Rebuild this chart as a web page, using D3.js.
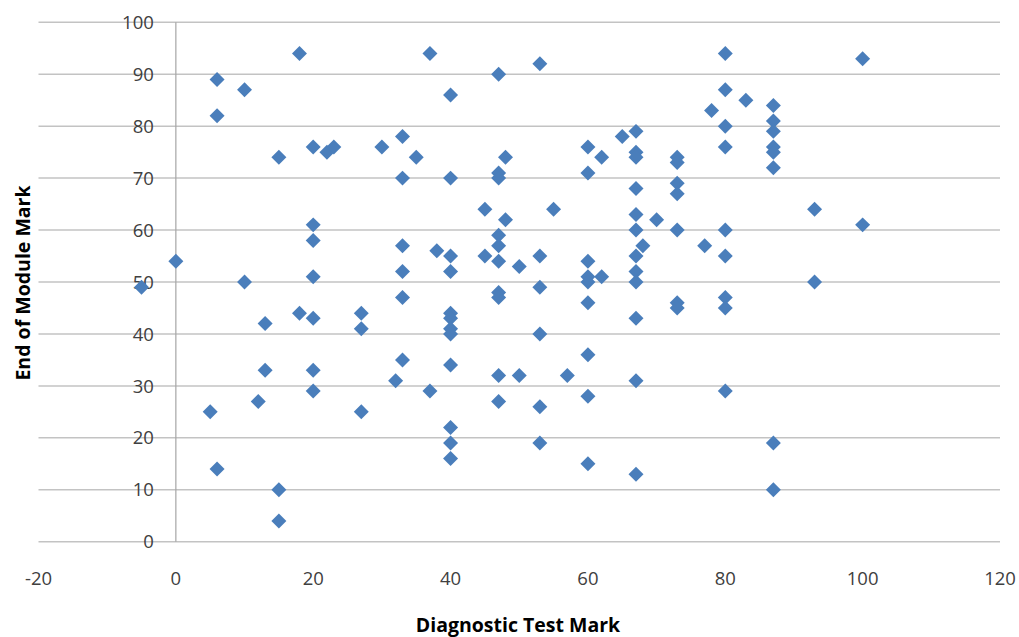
<!DOCTYPE html>
<html>
<head>
<meta charset="utf-8">
<script src="https://cdn.jsdelivr.net/npm/d3@7"></script>
<style>
  html, body { margin: 0; padding: 0; background: #fff; }
  svg { display: block; }
  text { font-family: "Open Sans", "Liberation Sans", sans-serif; }
</style>
</head>
<body>
<svg id="chart" width="1019" height="637"></svg>
<script>
// Diagnostic test mark (x) and end of module mark (y), one entry per student
const testMark = [
  -5, 0, 5, 6, 6, 6, 10, 10, 12, 13, 13, 15, 15, 15, 18, 18,
  20, 20, 20, 20, 20, 20, 20, 22, 23, 27, 27, 27, 30, 32,
  33, 33, 33, 33, 33, 33, 35, 37, 37, 38,
  40, 40, 40, 40, 40, 40, 40, 40, 40, 40, 40, 40,
  45, 45, 47, 47, 47, 47, 47, 47, 47, 47, 47, 47, 48, 48,
  50, 50, 53, 53, 53, 53, 53, 53, 55, 57,
  60, 60, 60, 60, 60, 60, 60, 60, 60, 62, 62, 65,
  67, 67, 67, 67, 67, 67, 67, 67, 67, 67, 67, 67, 68, 70,
  73, 73, 73, 73, 73, 73, 73, 77, 78,
  80, 80, 80, 80, 80, 80, 80, 80, 80, 83,
  87, 87, 87, 87, 87, 87, 87, 87, 93, 93, 100, 100
];
const moduleMark = [
  49, 54, 25, 89, 82, 14, 87, 50, 27, 42, 33, 74, 10, 4, 94, 44,
  76, 61, 58, 51, 43, 33, 29, 75, 76, 44, 41, 25, 76, 31,
  78, 70, 57, 52, 47, 35, 74, 94, 29, 56,
  86, 70, 55, 52, 44, 43, 41, 40, 34, 22, 19, 16,
  64, 55, 90, 71, 70, 59, 57, 54, 48, 47, 32, 27, 74, 62,
  53, 32, 92, 55, 49, 40, 26, 19, 64, 32,
  76, 71, 54, 51, 50, 46, 36, 28, 15, 74, 51, 78,
  79, 75, 74, 68, 63, 60, 55, 52, 50, 43, 31, 13, 57, 62,
  74, 73, 69, 67, 60, 46, 45, 57, 83,
  94, 87, 80, 76, 60, 55, 47, 45, 29, 85,
  84, 81, 79, 76, 75, 72, 19, 10, 64, 50, 93, 61
];
const xTicks = [-20, 0, 20, 40, 60, 80, 100, 120];
const yTicks = [0, 10, 20, 30, 40, 50, 60, 70, 80, 90, 100];
const xTitle = "Diagnostic Test Mark";
const yTitle = "End of Module Mark";

const points = testMark.map((x, i) => ({ x, y: moduleMark[i] }));

const svg = d3.select("#chart");
const plotLeft = 38.5, plotRight = 1000, plotTop = 22.3, plotBottom = 541.7;

const x = d3.scaleLinear().domain([-20, 120]).range([plotLeft, plotRight]);
const y = d3.scaleLinear().domain([0, 100]).range([plotBottom, plotTop]);

// horizontal gridlines
svg.append("g").selectAll("line").data(yTicks).join("line")
  .attr("x1", x(-20)).attr("x2", x(120))
  .attr("y1", d => y(d)).attr("y2", d => y(d))
  .attr("stroke", "#c3c3c3").attr("stroke-width", 1.5);

// vertical axis line at x = 0
svg.append("line")
  .attr("x1", x(0)).attr("x2", x(0))
  .attr("y1", y(100)).attr("y2", y(0))
  .attr("stroke", "#a6a6a6").attr("stroke-width", 1.2);

// y tick labels (axis crosses at x = 0)
svg.append("g").selectAll("text").data(yTicks).join("text")
  .attr("x", x(0) - 22).attr("y", d => y(d))
  .attr("dy", "0.36em")
  .attr("text-anchor", "end")
  .attr("font-size", 18.5)
  .attr("fill", "#404040")
  .text(d => d);

// x tick labels
svg.append("g").selectAll("text").data(xTicks).join("text")
  .attr("x", d => x(d)).attr("y", 585)
  .attr("text-anchor", "middle")
  .attr("font-size", 18.5)
  .attr("fill", "#404040")
  .text(d => d);

// axis titles
svg.append("text")
  .attr("x", 518).attr("y", 632)
  .attr("text-anchor", "middle")
  .attr("font-size", 19.5).attr("font-weight", "bold")
  .attr("fill", "#000")
  .text(xTitle);

svg.append("text")
  .attr("transform", "translate(30,283) rotate(-90)")
  .attr("text-anchor", "middle")
  .attr("font-size", 19.5).attr("font-weight", "bold")
  .attr("fill", "#000")
  .text(yTitle);

// markers
const diamond = d3.symbol().type(d3.symbolDiamond2 || d3.symbolDiamond).size(143);
svg.append("g").selectAll("path").data(points).join("path")
  .attr("transform", d => `translate(${x(d.x)},${y(d.y)})`)
  .attr("d", diamond)
  .attr("fill", "#4a7ebb");
</script>
</body>
</html>
